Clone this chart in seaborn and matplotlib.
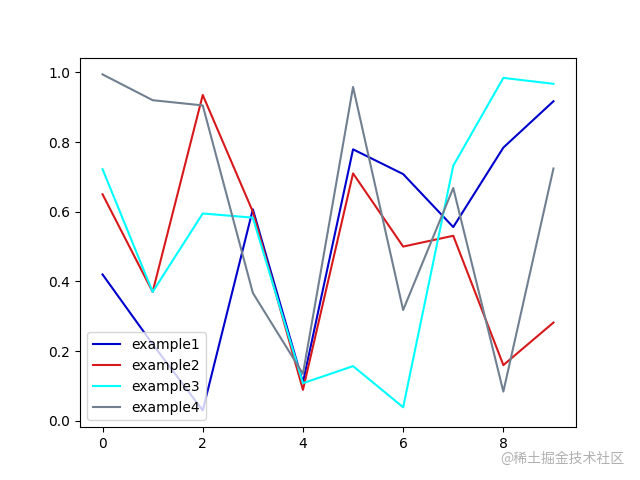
import pandas as pd
import seaborn as sns
import matplotlib.pyplot as plt

# Datos
x = list(range(10))
example1 = [0.42, 0.22, 0.03, 0.607, 0.11, 0.779, 0.708, 0.556, 0.784, 0.917]
example2 = [0.65, 0.37, 0.935, 0.60, 0.089, 0.71, 0.50, 0.531, 0.16, 0.282]
example3 = [0.722, 0.37, 0.595, 0.583, 0.108, 0.157, 0.039, 0.732, 0.984, 0.967]
example4 = [0.994, 0.92, 0.905, 0.367, 0.135, 0.958, 0.318, 0.668, 0.084, 0.724]

series = {"example1": example1, "example2": example2, "example3": example3, "example4": example4}
colors = {"example1": "mediumblue", "example2": "#d7191c", "example3": "cyan", "example4": "slategray"}

df = pd.DataFrame([(k, xi, yi) for k, vals in series.items() for xi, yi in zip(x, vals)],
                  columns=["serie", "x", "y"])

fig, ax = plt.subplots(figsize=(6.4, 4.8), dpi=100)
sns.lineplot(data=df, x="x", y="y", hue="serie", palette=colors, ax=ax, linewidth=1.5)
ax.set_xlabel("")
ax.set_ylabel("")
ax.legend(loc="lower left")

fig.text(0.975, 0.03, "@稀土掘金技术社区", ha="right", va="bottom", color="#b0b0b0",
         fontsize=10, family=["Noto Sans CJK SC", "DejaVu Sans"])

fig.savefig("out.png", dpi=100)
